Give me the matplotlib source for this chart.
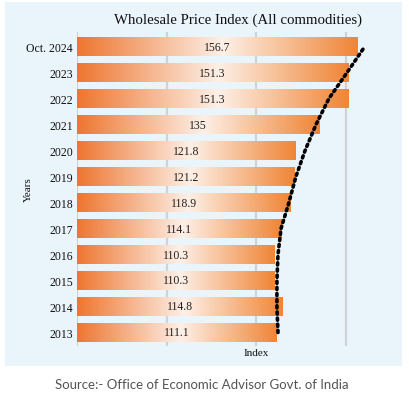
import matplotlib
matplotlib.use('Agg')

import matplotlib.pyplot as plt
import numpy as np
from matplotlib.colors import LinearSegmentedColormap
from matplotlib.patches import Rectangle

# Dados
anos = ['2013', '2014', '2015', '2016', '2017', '2018', '2019', '2020',
        '2021', '2022', '2023', 'Oct. 2024']
wpi = [111.1, 114.8, 110.3, 110.3, 114.1, 118.9, 121.2, 121.8, 135, 151.3, 151.3, 156.7]
rotulos = ['111.1', '114.8', '110.3', '110.3', '114.1', '118.9', '121.2', '121.8',
           '135', '151.3', '151.3', '156.7']
# linha de tendencia
tendencia = [112.1, 111.5, 111.5, 112.1, 113.8, 118.2, 122.1, 127.2, 133.3, 140.5, 150.6, 160.5]

W, H = 409, 402
fig = plt.figure(figsize=(W / 100, H / 100), dpi=100)
fig.patch.set_facecolor('white')

# painel azul claro
fig.patches.append(Rectangle((5 / W, 1 - 367 / H), 397 / W, 364 / H,
                             transform=fig.transFigure, facecolor='#eaf4fb',
                             edgecolor='none', zorder=-5))

ax = fig.add_axes([77 / W, 1 - 347 / H, 170 * 1.793 / W, 314 / H])
ax.set_facecolor('none')

pos = np.arange(len(anos))
barras = ax.barh(pos, wpi, height=0.7, color='none', edgecolor='none')

cmap = LinearSegmentedColormap.from_list(
    'laranja', [(0, '#ee7630'), (0.52, '#fdf0e7'), (1, '#f08536')])
grad = np.linspace(0, 1, 256).reshape(1, -1)
for b, txt in zip(barras, rotulos):
    x0, y0, w, h = b.get_x(), b.get_y(), b.get_width(), b.get_height()
    ax.imshow(grad, cmap=cmap, extent=[x0, x0 + w, y0, y0 + h],
              aspect='auto', zorder=2, interpolation='bicubic')
    ax.text(x0 + w / 2, y0 + h / 2, txt, ha='center', va='center',
            fontsize=8.5, family='Liberation Serif', color='#222222', zorder=3)

ax.plot(tendencia, pos, color='black', linestyle=(0, (0.6, 1.1)), lw=2.6,
        dash_capstyle='round', zorder=4)

ax.set_xlim(0, 170)
ax.set_ylim(-0.52, 11.56)
ax.set_xticks([0, 50, 100, 150])
ax.set_xticklabels([])
ax.tick_params(axis='x', length=0)
ax.grid(axis='x', color='#cfd3d6', lw=1.6, zorder=1)
ax.set_axisbelow(True)
ax.set_yticks(pos)
ax.set_yticklabels(anos, fontsize=8.5, family='Liberation Serif', color='#111111')
ax.tick_params(axis='y', length=0, pad=3)
for s in ax.spines.values():
    s.set_visible(False)

fig.text(238 / W, 1 - 20 / H, 'Wholesale Price Index (All commodities)',
         ha='center', va='center', fontsize=10.7, family='Liberation Serif',
         color='#111111')
fig.text(28 / W, 1 - 190 / H, 'Years', rotation=90, ha='center', va='center',
         fontsize=8, family='Liberation Serif', color='#111111')
fig.text(256 / W, 1 - 354 / H, 'Index', ha='center', va='center',
         fontsize=8, family='Liberation Serif', color='#111111')
fig.text(202 / W, 1 - 385 / H, 'Source:- Office of Economic Advisor Govt. of India',
         ha='center', va='center', fontsize=9.5, family='Lato', color='#555555')

fig.savefig('out.png', dpi=100)
